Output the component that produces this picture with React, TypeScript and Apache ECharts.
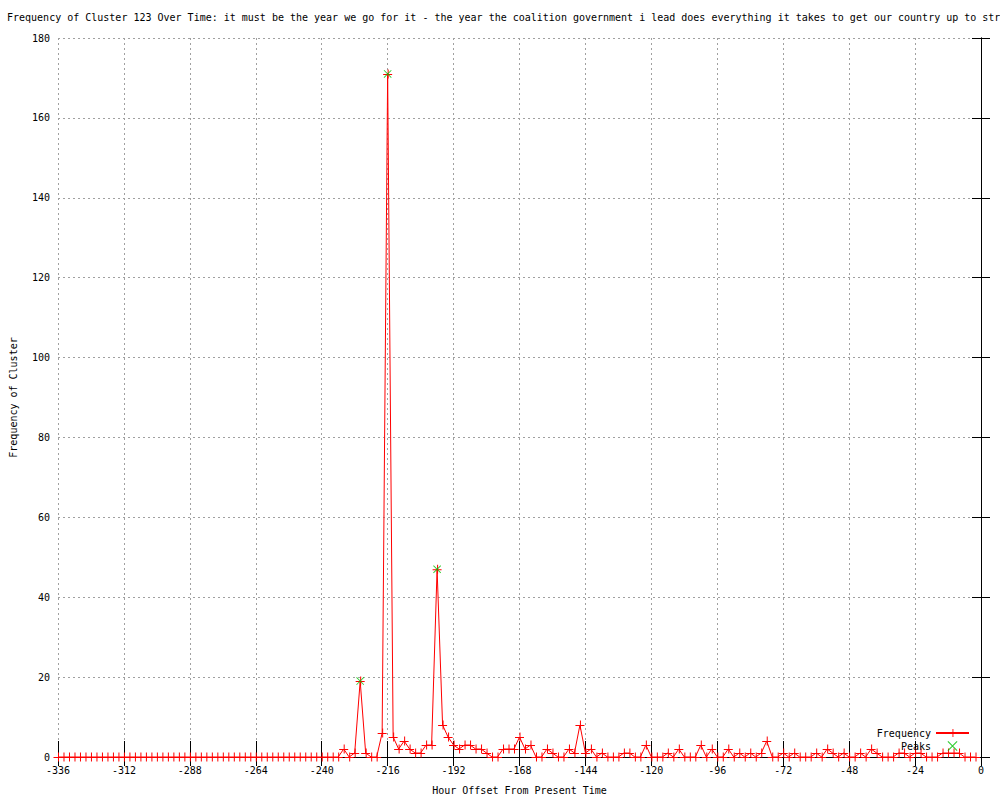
import React, { useEffect, useRef } from "react";
import * as echarts from "echarts";

const titleText =
  "Frequency of Cluster 123 Over Time: it must be the year we go for it - the year the coalition government i lead does everything it takes to get our country up to stre";
const xAxisName = "Hour Offset From Present Time";
const yAxisName = "Frequency of Cluster";

const hourStart = -336;
const hourStep = 2;

// frequency per 2-hour bucket, from -336 to -2
const frequency = [
  0, 0, 0, 0, 0, 0, 0, 0, 0, 0, 0, 0,
  0, 0, 0, 0, 0, 0, 0, 0, 0, 0, 0, 0,
  0, 0, 0, 0, 0, 0, 0, 0, 0, 0, 0, 0,
  0, 0, 0, 0, 0, 0, 0, 0, 0, 0, 0, 0,
  0, 0, 0, 0,
  2, 0, 1, 19, 1, 0, 0, 6, 171, 5, 2, 4,
  2, 1, 1, 3, 3, 47, 8, 5, 3, 2, 3, 3,
  2, 2, 1, 0, 0, 2, 2, 2, 5, 2, 3, 0,
  0, 2, 1, 0, 0, 2, 1, 8, 1, 2, 0, 1,
  0, 0, 0, 1, 1, 0, 0, 3, 0, 0, 0, 1,
  0, 2, 0, 0, 0, 3, 0, 2, 0, 0, 2, 0,
  1, 0, 1, 0, 1, 4, 0, 0, 1, 0, 1, 0,
  0, 0, 1, 0, 2, 1, 0, 1, 0, 0, 1, 0,
  2, 1, 0, 0, 0, 1, 1, 0, 1, 1, 0, 0,
  0, 1, 1, 1, 1, 0, 0, 0,
];

const peakHours = [-226, -216, -198];
const peakValues = [19, 171, 47];

const xTicks = { min: -336, max: 0, interval: 24 };
const yTicks = { min: 0, max: 180, interval: 20 };

const PLUS = "path://M0,4.5L9,4.5L9,5.5L0,5.5Z M4.5,0L5.5,0L5.5,9L4.5,9Z";
const CROSS =
  "path://M0,0.8L0.8,0L10,9.2L9.2,10Z M9.2,0L10,0.8L0.8,10L0,9.2Z";

const FONT = "'DejaVu Sans Mono', monospace";

export default function App() {
  const ref = useRef<HTMLDivElement>(null);

  useEffect(() => {
    document.body.style.margin = "0";
    if (!ref.current) return;
    const chart = echarts.init(ref.current, undefined, { renderer: "svg" });

    const freqData = frequency.map((v, i) => [hourStart + i * hourStep, v]);
    const peakData = peakHours.map((h, i) => [h, peakValues[i]]);

    chart.setOption({
      animation: false,
      backgroundColor: "#ffffff",
      textStyle: { fontFamily: FONT },
      title: {
        text: titleText,
        left: 7,
        top: 12,
        padding: 0,
        textStyle: {
          fontFamily: FONT,
          fontSize: 10,
          fontWeight: "normal",
          color: "#000",
        },
      },
      grid: { left: 55, right: 19, top: 38, bottom: 40, containLabel: false },
      legend: {
        orient: "vertical",
        right: 30,
        top: 728,
        padding: 0,
        align: "right",
        itemWidth: 33,
        itemHeight: 10,
        itemGap: 3,
        textStyle: { fontFamily: FONT, fontSize: 10, color: "#000" },
        data: ["Frequency", "Peaks"],
      },
      xAxis: [
        {
          type: "value",
          position: "bottom",
          min: xTicks.min,
          max: xTicks.max,
          interval: xTicks.interval,
          name: xAxisName,
          nameLocation: "middle",
          nameGap: 28,
          nameTextStyle: { fontFamily: FONT, fontSize: 10, color: "#000" },
          axisLine: { show: true, lineStyle: { color: "#000", width: 1 } },
          axisTick: { show: true, inside: true, length: 16, lineStyle: { color: "#000" } },
          axisLabel: { fontFamily: FONT, fontSize: 10, color: "#000", margin: 8 },
          splitLine: {
            show: true,
            lineStyle: { color: "#a0a0a0", width: 1, type: [2, 3] },
          },
        },
        {
          type: "value",
          position: "top",
          min: xTicks.min,
          max: xTicks.max,
          interval: xTicks.interval,
          axisLine: { show: true, lineStyle: { color: "#000", width: 1 } },
          axisTick: { show: true, inside: true, length: 9, lineStyle: { color: "#000" } },
          axisLabel: { show: false },
          splitLine: { show: false },
        },
      ],
      yAxis: [
        {
          type: "value",
          position: "left",
          min: yTicks.min,
          max: yTicks.max,
          interval: yTicks.interval,
          name: yAxisName,
          nameLocation: "middle",
          nameGap: 40,
          nameRotate: 90,
          nameTextStyle: { fontFamily: FONT, fontSize: 10, color: "#000" },
          axisLine: { show: true, lineStyle: { color: "#000", width: 1 } },
          axisTick: { show: true, inside: true, length: 9, lineStyle: { color: "#000" } },
          axisLabel: { fontFamily: FONT, fontSize: 10, color: "#000", margin: 8 },
          splitLine: {
            show: true,
            lineStyle: { color: "#a0a0a0", width: 1, type: [2, 3] },
          },
        },
        {
          type: "value",
          position: "right",
          min: yTicks.min,
          max: yTicks.max,
          interval: yTicks.interval,
          axisLine: { show: true, lineStyle: { color: "#000", width: 1 } },
          axisTick: { show: true, inside: true, length: 9, lineStyle: { color: "#000" } },
          axisLabel: { show: false },
          splitLine: { show: false },
        },
      ],
      series: [
        {
          name: "Frequency",
          type: "line",
          xAxisIndex: 0,
          yAxisIndex: 0,
          data: freqData,
          symbol: PLUS,
          symbolSize: 9,
          showSymbol: true,
          showAllSymbol: true,
          clip: false,
          lineStyle: { color: "#ff0000", width: 1 },
          itemStyle: { color: "#ff0000", borderWidth: 0 },
          z: 2,
        },
        {
          name: "Peaks",
          type: "scatter",
          xAxisIndex: 0,
          yAxisIndex: 0,
          data: peakData,
          symbol: CROSS,
          symbolSize: 8,
          itemStyle: { color: "#00c000", borderWidth: 0 },
          z: 3,
        },
      ],
    });

    return () => chart.dispose();
  }, []);

  return <div ref={ref} style={{ width: 1000, height: 800 }} />;
}
